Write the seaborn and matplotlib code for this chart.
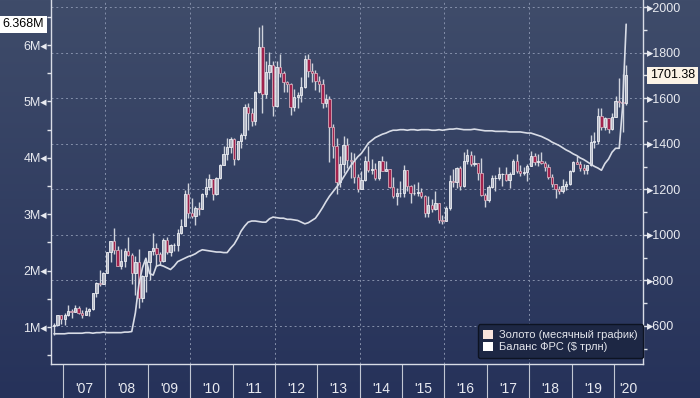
import numpy as np
import pandas as pd
import matplotlib
matplotlib.use('Agg')
import matplotlib.pyplot as plt
import matplotlib.dates as mdates
from matplotlib.colors import LinearSegmentedColormap
from matplotlib.patches import Patch
import seaborn as sns

## monthly gold candles, Oct 2006 .. Apr 2020 (USD/oz, right axis)
gold_open = [
    599, 604, 647,
    632, 650, 665, 662, 679, 659, 650, 665, 673, 743, 790, 783,
    834, 923, 972, 933, 864, 886, 930, 913, 833, 880, 724, 818,
    882, 927, 942, 916, 887, 979, 926, 955, 955, 1007, 1040, 1181,
    1096, 1081, 1118, 1115, 1179, 1212, 1244, 1181, 1248, 1307, 1357, 1386,
    1421, 1333, 1411, 1439, 1563, 1536, 1500, 1628, 1826, 1620, 1714, 1746,
    1564, 1738, 1711, 1669, 1664, 1560, 1604, 1614, 1648, 1772, 1720, 1711,
    1675, 1662, 1579, 1597, 1472, 1392, 1234, 1313, 1396, 1327, 1323, 1253,
    1202, 1240, 1326, 1284, 1291, 1250, 1322, 1282, 1287, 1208, 1171, 1183,
    1184, 1283, 1213, 1183, 1184, 1190, 1172, 1095, 1133, 1115, 1142, 1065,
    1061, 1118, 1238, 1233, 1293, 1215, 1322, 1351, 1309, 1316, 1272, 1174,
    1151, 1211, 1249, 1249, 1268, 1268, 1242, 1269, 1322, 1280, 1271, 1275,
    1303, 1345, 1318, 1325, 1315, 1299, 1253, 1224, 1201, 1192, 1214, 1222,
    1282, 1321, 1313, 1292, 1284, 1305, 1409, 1413, 1520, 1472, 1513, 1464,
    1517, 1589, 1585, 1577,
]
gold_close = [
    604, 647, 632,
    650, 665, 662, 679, 659, 650, 665, 673, 743, 790, 783, 834,
    923, 972, 933, 864, 886, 930, 913, 833, 880, 724, 818, 882,
    927, 942, 916, 887, 979, 926, 955, 955, 1007, 1040, 1181, 1096,
    1081, 1118, 1115, 1179, 1212, 1244, 1181, 1248, 1307, 1357, 1386, 1421,
    1333, 1411, 1439, 1563, 1536, 1500, 1628, 1826, 1620, 1714, 1746, 1564,
    1738, 1711, 1669, 1664, 1560, 1604, 1614, 1648, 1772, 1720, 1711, 1675,
    1662, 1579, 1597, 1472, 1392, 1234, 1313, 1396, 1327, 1323, 1253, 1202,
    1240, 1326, 1284, 1291, 1250, 1322, 1282, 1287, 1208, 1171, 1183, 1184,
    1283, 1213, 1183, 1184, 1190, 1172, 1095, 1133, 1115, 1142, 1065, 1061,
    1118, 1238, 1233, 1293, 1215, 1322, 1351, 1309, 1316, 1272, 1174, 1151,
    1211, 1249, 1249, 1268, 1268, 1242, 1269, 1322, 1280, 1271, 1275, 1303,
    1345, 1318, 1325, 1315, 1299, 1253, 1224, 1201, 1192, 1214, 1222, 1282,
    1321, 1313, 1292, 1284, 1305, 1409, 1413, 1520, 1472, 1513, 1464, 1517,
    1589, 1585, 1577, 1701,
]
gold_high = [
    612, 650, 648,
    656, 690, 673, 692, 686, 670, 683, 679, 745, 793, 845, 838,
    925, 974, 1032, 952, 936, 941, 989, 921, 907, 936, 825, 887,
    931, 1006, 963, 925, 984, 990, 961, 966, 1024, 1070, 1195, 1227,
    1162, 1128, 1144, 1182, 1249, 1265, 1245, 1254, 1313, 1388, 1424, 1431,
    1424, 1412, 1448, 1575, 1577, 1556, 1632, 1913, 1921, 1764, 1803, 1764,
    1764, 1792, 1720, 1677, 1666, 1641, 1627, 1692, 1790, 1796, 1755, 1723,
    1696, 1684, 1617, 1608, 1487, 1423, 1348, 1434, 1424, 1362, 1361, 1267,
    1280, 1345, 1392, 1331, 1315, 1326, 1345, 1323, 1289, 1255, 1207, 1238,
    1307, 1285, 1220, 1224, 1232, 1205, 1175, 1170, 1157, 1191, 1142, 1088,
    1127, 1263, 1287, 1298, 1304, 1362, 1375, 1367, 1352, 1317, 1338, 1182,
    1220, 1264, 1263, 1296, 1270, 1296, 1274, 1331, 1357, 1306, 1299, 1309,
    1366, 1361, 1356, 1365, 1326, 1309, 1266, 1225, 1214, 1243, 1237, 1284,
    1326, 1347, 1324, 1310, 1306, 1439, 1453, 1555, 1557, 1517, 1515, 1535,
    1611, 1689, 1704, 1747,
]
gold_low = [
    560, 603, 608,
    603, 645, 636, 660, 651, 636, 648, 642, 668, 727, 777, 783,
    834, 880, 915, 864, 850, 857, 908, 786, 735, 681, 705, 750,
    802, 912, 865, 866, 882, 915, 906, 930, 931, 1003, 1040, 1075,
    1073, 1044, 1088, 1113, 1165, 1198, 1155, 1176, 1243, 1307, 1330, 1360,
    1308, 1329, 1381, 1420, 1462, 1478, 1482, 1623, 1535, 1602, 1682, 1523,
    1563, 1692, 1627, 1628, 1527, 1545, 1556, 1583, 1646, 1693, 1672, 1635,
    1626, 1555, 1563, 1321, 1338, 1180, 1208, 1271, 1292, 1251, 1226, 1187,
    1202, 1237, 1277, 1268, 1240, 1241, 1281, 1280, 1206, 1160, 1131, 1168,
    1167, 1191, 1142, 1175, 1169, 1162, 1077, 1080, 1099, 1110, 1052, 1046,
    1061, 1110, 1208, 1207, 1199, 1208, 1310, 1302, 1303, 1241, 1171, 1124,
    1146, 1207, 1194, 1241, 1215, 1236, 1205, 1265, 1273, 1260, 1263, 1236,
    1302, 1307, 1303, 1310, 1281, 1246, 1211, 1160, 1180, 1182, 1196, 1221,
    1276, 1309, 1281, 1266, 1266, 1301, 1381, 1400, 1459, 1459, 1445, 1459,
    1517, 1563, 1451, 1568,
]
## Fed balance sheet, $ trln (left axis, shown as "M")
fed_balance = [
    0.88, 0.88, 0.88,
    0.88, 0.89, 0.89, 0.89, 0.89, 0.89, 0.90, 0.90, 0.89, 0.90, 0.90, 0.91,
    0.90, 0.90, 0.90, 0.90, 0.90, 0.91, 0.91, 0.92, 1.25, 1.75, 2.05, 2.22,
    1.95, 1.92, 2.08, 2.10, 2.08, 2.05, 2.02, 2.08, 2.16, 2.19, 2.22, 2.25,
    2.27, 2.30, 2.34, 2.37, 2.36, 2.35, 2.34, 2.33, 2.33, 2.32, 2.32, 2.40,
    2.47, 2.58, 2.70, 2.79, 2.86, 2.88, 2.88, 2.87, 2.86, 2.86, 2.92, 2.95,
    2.94, 2.93, 2.93, 2.91, 2.91, 2.90, 2.89, 2.86, 2.83, 2.85, 2.89, 2.93,
    3.02, 3.12, 3.22, 3.32, 3.40, 3.48, 3.56, 3.66, 3.76, 3.86, 3.94, 4.02,
    4.08, 4.17, 4.26, 4.31, 4.36, 4.39, 4.42, 4.44, 4.47, 4.49, 4.49, 4.50,
    4.50, 4.49, 4.50, 4.50, 4.49, 4.50, 4.50, 4.50, 4.49, 4.49, 4.50, 4.49,
    4.50, 4.51, 4.51, 4.52, 4.51, 4.50, 4.50, 4.50, 4.51, 4.50, 4.49, 4.48,
    4.48, 4.48, 4.47, 4.47, 4.47, 4.47, 4.46, 4.46, 4.46, 4.46, 4.45, 4.44,
    4.44, 4.42, 4.40, 4.38, 4.35, 4.32, 4.28, 4.25, 4.22, 4.18, 4.14, 4.11,
    4.07, 4.04, 4.00, 3.97, 3.93, 3.89, 3.85, 3.82, 3.78, 3.90, 3.98, 4.10,
    4.17, 4.17, 4.90, 6.37,
]
years = list(range(2007, 2021))
year_labels = ["'07", "'08", "'09", "'10", "'11", "'12", "'13", "'14",
               "'15", "'16", "'17", "'18", "'19", "'20"]
grid_years = [2008, 2010, 2012, 2014, 2016, 2018]
fed_ticks = [1, 2, 3, 4, 5, 6]
gold_ticks = [600, 800, 1000, 1200, 1400, 1600, 1800, 2000]
legend_labels = ['Золото (месячный график)', 'Баланс ФРС ($ трлн)']

months = pd.date_range('2006-10-01', periods=len(gold_close), freq='MS') + pd.Timedelta(days=14)
x = mdates.date2num(months.to_pydatetime())
o = np.array(gold_open, float)
c = np.array(gold_close, float)
h = np.array(gold_high, float)
l = np.array(gold_low, float)
up = c >= o

sns.set_style('dark')
plt.rcParams['font.family'] = ['Liberation Sans', 'DejaVu Sans']

fig = plt.figure(figsize=(7, 3.98), dpi=100)

## navy gradient background
bg = fig.add_axes([0, 0, 1, 1], zorder=-10)
grad = np.linspace(0, 1, 256).reshape(-1, 1)
bg.imshow(grad, aspect='auto', extent=[0, 1, 0, 1],
          cmap=LinearSegmentedColormap.from_list('bg', ['#3f4c6a', '#26325a']))
bg.axis('off')

ax = fig.add_axes([51 / 700, 34 / 398, 592 / 700, 364 / 398])
ax.set_facecolor('none')
ax2 = ax.twinx()
ax.yaxis.tick_right()
ax2.yaxis.tick_left()

## candles
ax.vlines(x, l, h, color='#cfd3dc', lw=1, zorder=2)
ax.bar(x[up], c[up] - o[up], bottom=o[up], width=20, color='#b3b7c5',
       edgecolor='#eef0f4', lw=0.6, zorder=3)
ax.bar(x[~up], c[~up] - o[~up], bottom=o[~up], width=20, color='#a1224d',
       edgecolor='#d2aab8', lw=0.6, zorder=3)

## fed balance line
sns.lineplot(x=x, y=fed_balance, ax=ax2, color='#d8dce6', lw=1.2)

x0 = mdates.date2num(pd.Timestamp('2006-09-19'))
x1 = mdates.date2num(pd.Timestamp('2020-09-07'))
ax.set_xlim(x0, x1)
ax.set_ylim(433, 2031)
ax2.set_ylim(0.344, 6.80)

## grid
ax.grid(False)
ax2.grid(False)
for g in gold_ticks:
    ax.axhline(g, color='#8590ab', lw=0.7, ls=(0, (2, 3)), zorder=1)
for yr in grid_years:
    ax.axvline(mdates.date2num(pd.Timestamp(f'{yr}-01-01')), color='#8590ab',
               lw=0.7, ls=(0, (2, 3)), zorder=1)

## x axis: year separators + centred labels
bounds = [mdates.date2num(pd.Timestamp(f'{yr}-01-01')) for yr in years]
centres = [(bounds[i] + (bounds[i + 1] if i + 1 < len(bounds) else x1)) / 2
           for i in range(len(bounds))]
ax.set_xticks(bounds)
ax.set_xticklabels([])
ax.set_xticks(centres, minor=True)
ax.set_xticklabels(year_labels, minor=True)
ax.tick_params(axis='x', which='major', direction='out', length=25, width=0.8,
               color='#c2c7d3', bottom=True)
ax.tick_params(axis='x', which='minor', length=0, pad=13, labelsize=10,
               labelcolor='#e8eaf0')

## right axis (gold)
ax.set_yticks(gold_ticks)
ax.set_yticklabels(['▸' + str(g) for g in gold_ticks])
ax.set_yticks([500 + 200 * i for i in range(8)], minor=True)
ax.tick_params(axis='y', which='both', right=True, left=False, length=3,
               width=1, color='#e0e3ea', labelcolor='#e8eaf0', labelsize=9, pad=0)

## left axis (fed)
ax2.set_yticks(fed_ticks)
ax2.set_yticklabels([f'{v}M◂' for v in fed_ticks])
ax2.set_yticks([0.5 + i for i in range(7)], minor=True)
ax2.tick_params(axis='y', which='both', left=True, right=False, length=3,
                width=1, color='#e0e3ea', labelcolor='#e8eaf0', labelsize=9, pad=0)

for a in (ax, ax2):
    a.spines['top'].set_visible(False)
for s in ('left', 'right', 'bottom'):
    ax.spines[s].set_color('#d8dce6')
    ax.spines[s].set_linewidth(1)
    ax2.spines[s].set_visible(False)
ax.set_xlabel('')
ax.set_ylabel('')
ax2.set_ylabel('')

## last value flags
ax2.annotate('6.368M', xy=(0, fed_balance[-1]), xycoords=ax2.get_yaxis_transform(),
             xytext=(-5, 0), textcoords='offset points', ha='right', va='center',
             fontsize=9, color='black', annotation_clip=False,
             bbox=dict(boxstyle='square,pad=0.2', fc='white', ec='none'))
ax.annotate('1701.38', xy=(1, gold_close[-1]), xycoords=ax.get_yaxis_transform(),
            xytext=(5, 0), textcoords='offset points', ha='left', va='center',
            fontsize=9, color='black', annotation_clip=False,
            bbox=dict(boxstyle='square,pad=0.2', fc='#fbf3e6', ec='none'))

handles = [Patch(fc='#f7e3dc', ec='none'), Patch(fc='white', ec='none')]
leg = ax2.legend(handles, legend_labels, loc='lower right', bbox_to_anchor=(1, 6 / 364),
                 borderaxespad=0, frameon=True, facecolor='#1d2744', edgecolor='#0d1322',
                 framealpha=1, fontsize=8, labelcolor='#e4e6ec', handlelength=0.9,
                 handleheight=0.9, handletextpad=0.5, borderpad=0.5, labelspacing=0.15)

fig.savefig('out.png', dpi=100)
